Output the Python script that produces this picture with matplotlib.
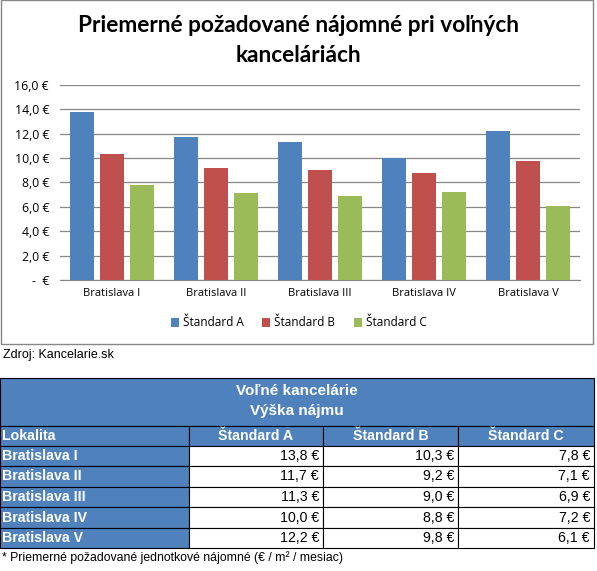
import numpy as np
import matplotlib.pyplot as plt
from matplotlib.patches import Rectangle

locations = ['Bratislava I', 'Bratislava II', 'Bratislava III', 'Bratislava IV', 'Bratislava V']
series_names = ['Štandard A', 'Štandard B', 'Štandard C']
standard_a = [13.8, 11.7, 11.3, 10.0, 12.2]
standard_b = [10.3, 9.2, 9.0, 8.8, 9.8]
standard_c = [7.8, 7.1, 6.9, 7.2, 6.1]
colors = ['#4F81BD', '#C0504D', '#9BBB59']

W, H = 597, 571
NARROW = ['Liberation Sans Narrow', 'Liberation Sans', 'DejaVu Sans']


def fx(px):
    return px / W


def fy(py):
    return 1 - py / H


def euro(v):
    return f'{v:.1f} €'.replace('.', ',')


fig = plt.figure(figsize=(W / 100, H / 100), dpi=100)
fig.patch.set_facecolor('white')

# chart frame
fig.patches.append(Rectangle((fx(0.5), fy(344)), fx(592.5), 344 / H, transform=fig.transFigure,
                             fill=False, edgecolor='#868686', linewidth=1.0))

fig.text(0.5, fy(25), 'Priemerné požadované nájomné pri voľných', ha='center', va='center',
         fontsize=16.3, fontweight='bold', family=['Lato', 'DejaVu Sans'])
fig.text(0.5, fy(55), 'kanceláriách', ha='center', va='center',
         fontsize=16.3, fontweight='bold', family=['Lato', 'DejaVu Sans'])

ax = fig.add_axes([fx(60), fy(280), fx(520), 195 / H])
x = np.arange(len(locations))
width = 0.23
step = 0.29
for i, (vals, name) in enumerate(zip([standard_a, standard_b, standard_c], series_names)):
    ax.bar(x + (i - 1) * step, vals, width, color=colors[i], label=name, zorder=3)

ax.set_xlim(-0.5, len(locations) - 0.5)
ax.set_ylim(0, 16)
ax.set_yticks(np.arange(0, 17, 2))
ax.set_yticklabels(['-  €'] + [euro(v) for v in np.arange(2, 17, 2)],
                   fontsize=8.8, family=['Open Sans', 'DejaVu Sans'])
ax.set_xticks(x)
ax.set_xticklabels(locations, fontsize=8, family=['Open Sans', 'DejaVu Sans'])
ax.tick_params(axis='x', length=0, pad=6)
ax.tick_params(axis='y', length=0, pad=8)
ax.grid(axis='y', color='#868686', linewidth=0.9, zorder=0)
for s in ['top', 'right', 'left']:
    ax.spines[s].set_visible(False)
ax.spines['bottom'].set_color('#868686')

fig.legend(loc='center', bbox_to_anchor=(0.5, fy(323)), ncol=3, frameon=False,
           handlelength=0.7, handleheight=0.7, handletextpad=0.3,
           columnspacing=1.6, prop={'family': ['Open Sans', 'DejaVu Sans'], 'size': 8.5})

fig.text(fx(3), fy(355), 'Zdroj: Kancelarie.sk', ha='left', va='center', fontsize=9, family=NARROW)

# table overlay in pixel coordinates
tab = fig.add_axes([0, 0, 1, 1], zorder=5)
tab.set_xlim(0, W)
tab.set_ylim(H, 0)
tab.axis('off')

blue = '#4F81BD'
col_edges = [0, 189, 323, 458, 594]
row_edges = [426, 446, 466, 487, 507, 528, 548]

tab.add_patch(Rectangle((0, 378), 594, 48, facecolor=blue, edgecolor='black', linewidth=0.8))
tab.text(297, 391, 'Voľné kancelárie', ha='center', va='center', color='white',
         fontsize=11, fontweight='bold', family=NARROW)
tab.text(297, 411, 'Výška nájmu', ha='center', va='center', color='white',
         fontsize=11, fontweight='bold', family=NARROW)

# header row
for c in range(4):
    tab.add_patch(Rectangle((col_edges[c], row_edges[0]), col_edges[c + 1] - col_edges[c],
                            row_edges[1] - row_edges[0], facecolor=blue, edgecolor='black', linewidth=0.8))
tab.text(2, 436, 'Lokalita', ha='left', va='center', color='white', fontsize=10.2,
         fontweight='bold', family=NARROW)
for c, name in enumerate(series_names):
    tab.text((col_edges[c + 1] + col_edges[c + 2]) / 2, 436, name, ha='center', va='center',
             color='white', fontsize=10.2, fontweight='bold', family=NARROW)

series = [standard_a, standard_b, standard_c]
for r, loc in enumerate(locations):
    y0, y1 = row_edges[r + 1], row_edges[r + 2]
    yc = (y0 + y1) / 2
    tab.add_patch(Rectangle((0, y0), col_edges[1], y1 - y0, facecolor=blue, edgecolor='black', linewidth=0.8))
    tab.text(2, yc, loc, ha='left', va='center', color='white', fontsize=10.2,
             fontweight='bold', family=NARROW)
    for c in range(3):
        tab.add_patch(Rectangle((col_edges[c + 1], y0), col_edges[c + 2] - col_edges[c + 1], y1 - y0,
                                facecolor='white', edgecolor='black', linewidth=0.8))
        tab.text(col_edges[c + 2] - 4, yc, euro(series[c][r]), ha='right', va='center',
                 color='black', fontsize=10.2, family=NARROW)

tab.text(2, 558, '* Priemerné požadované jednotkové nájomné (€ / m² / mesiac)', ha='left',
         va='center', fontsize=8.8, family=NARROW)

fig.savefig('out.png', dpi=100)
